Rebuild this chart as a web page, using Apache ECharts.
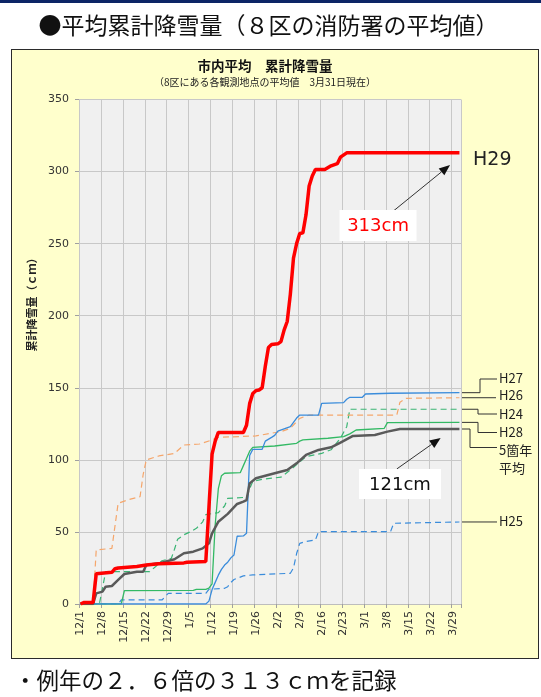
<!DOCTYPE html>
<html>
<head>
<meta charset="utf-8">
<script src="https://cdn.jsdelivr.net/npm/echarts@6/dist/echarts.min.js"></script>
<style>
  html, body { margin: 0; padding: 0; background: #fff; }
  #wrap { position: relative; width: 541px; height: 697px; }
  #topbar { position: absolute; left: 0; top: 0; width: 541px; height: 3px; background: #0c2566; }
  #panel { position: absolute; left: 11px; top: 49px; width: 526px; height: 608px;
           background: #ffffcc; border: 1.5px solid #2b2b2b; }
  #chart { position: absolute; left: 0; top: 0; width: 541px; height: 697px; }
</style>
</head>
<body>
<div id="wrap">
  <div id="topbar"></div>
  <div id="panel"></div>
  <div id="chart"></div>
</div>
<script>
// 12/1 .. 3/31 (2/29 included), one category per day
var months = [12, 1, 2, 3];
var monthDays = [31, 31, 29, 31];
var dates = [];
for (var m = 0; m < months.length; m++) {
    for (var d = 1; d <= monthDays[m]; d++) dates.push(months[m] + '/' + d);
}

// [day index, cm]
var h29 = [[0,0],[1,1],[4,1],[5,21],[10,22],[11,24.5],[12,25],[15,25.5],[18,26],[21,27],[25,28],[33,28.5],[34,29],[40,29.5],
    [41,67],[42,104],[43,113],[44,119],[52,119],[53,124],[54,139],[55,146],[56,148],[57,148.5],[58,150],[59,165],[60,178],[61,180],
    [63,180.5],[64,182],[65,190],[66,196],[67,215],[68,240],[69,250],[70,257],[71,257.5],[72,270],[73,290],[74,297],[75,301.5],
    [78,301.5],[80,304],[82,305.5],[83,310],[85,313],[121,313]];
var avg5 = [[0,0],[4,0],[5,7.4],[7,8.6],[8,12],[10,12.5],[12,16.7],[14,20.8],[18,22.4],[20,22.4],[21,27],[25,28.2],[30,31],
    [33,35.2],[36,36.3],[39,38.6],[41,42.1],[42,49],[44,57.1],[47,62.5],[50,69.4],[52,71],[53,72],[54,83.7],[56,87.2],[62,90.7],
    [66,93],[69,97.6],[72,103.4],[76,106.9],[80,108.7],[83,112],[87,116.6],[94,117.3],[98,119.6],[102,121.4],[121,121.4]];
var h27 = [[0,0],[40,0],[41,2],[42,10],[43,15],[44,20],[45,24],[46,27],[47,29],[48,32],[49,34],[50,47],[52,47.2],[53,49],
    [54,103],[55,107.3],[58,107.3],[59,113],[61,115.6],[62,117],[63,120],[67,123],[68,126],[69,129],[70,131.1],[76,131.1],
    [77,139.2],[84,139.7],[85,142],[86,143.4],[90,143.4],[91,145.7],[99,146.2],[121,146.6]];
var h26 = [[0,0],[4,0],[5,37.5],[10,38.6],[12,69.9],[15,72.2],[19,74.5],[20,90],[21,100],[25,102.7],[30,104.5],[33,110.3],
    [38,111],[42,113.8],[44,115.6],[56,116.6],[64,119.6],[67,121.9],[70,128.8],[73,131.1],[101,131.1],[102,140],[104,142.7],[121,143.1]];
var h24 = [[0,0],[6,0],[7,11],[8,22.4],[22,22.4],[24,26],[26,30],[29,31.7],[30,38],[31,45],[33,48],[35,50],[37,52.5],[39,57],
    [40,62],[44,63.4],[46,68],[47,73.3],[53,74],[54,80],[55,85],[58,86.5],[64,88],[67,93],[72,102.2],[77,104.5],[80,107],
    [83,115],[85,123],[86,135.1],[121,135.1]];
var h28 = [[0,0],[13,0],[14,9.3],[36,9.5],[37,10.2],[40,10.2],[41,11],[42,14],[43,55],[44,80],[45,89],[46,90.7],[51,91.1],
    [52,96],[53,101],[54,106],[55,108.7],[62,109.6],[69,111.5],[70,113],[71,113.8],[79,115],[84,116.1],[86,118],[88,120.7],
    [97,121.9],[98,125.8],[121,126]];
var h25 = [[0,0],[12,0],[13,2.8],[26,2.8],[28,7.4],[40,7.4],[41,10.2],[46,10.9],[47,12],[48,15],[49,17],[52,19.5],[55,20.2],
    [67,21.3],[68,25],[69,35],[70,42.1],[72,43.3],[75,44.4],[76,50.2],[99,50.2],[100,56],[121,56.9]];

var yTicks = [0, 50, 100, 150, 200, 250, 300, 350];

var blue = '#3a8cdb', green = '#33b964', greenD = '#3bb574', orange = '#f5a66b';

var chart = echarts.init(document.getElementById('chart'), null, { renderer: 'canvas' });

function line(name, data, color, width, dashed, z) {
    return {
        name: name, type: 'line', data: data, symbol: 'none', z: z,
        lineStyle: { color: color, width: width, type: dashed ? [6, 4] : 'solid' },
        emphasis: { disabled: true }
    };
}

var option = {
    animation: false,
    backgroundColor: 'transparent',
    grid: { left: 79, top: 99.5, right: 80, bottom: 93, show: true, backgroundColor: '#f0f0f0', borderWidth: 0 },
    xAxis: {
        type: 'category',
        data: dates,
        boundaryGap: true,
        axisLine: { show: true, lineStyle: { color: '#bdbdbd' } },
        axisTick: { show: true, interval: 6, length: 4, lineStyle: { color: '#a0a0a0' } },
        axisLabel: { interval: 6, rotate: 90, margin: 7, fontSize: 11, color: '#333', fontFamily: 'DejaVu Sans' },
        splitLine: { show: true, interval: 6, lineStyle: { color: '#c8c8c8', width: 1 } }
    },
    yAxis: {
        type: 'value',
        min: yTicks[0], max: yTicks[yTicks.length - 1], interval: 50,
        axisLine: { show: true, lineStyle: { color: '#c8c8c8' } },
        axisTick: { show: true, length: 4, lineStyle: { color: '#a0a0a0' } },
        axisLabel: { margin: 10, fontSize: 11, color: '#333', fontFamily: 'DejaVu Sans' },
        splitLine: { show: true, lineStyle: { color: '#c8c8c8', width: 1 } }
    },
    series: [
        line('H25', h25, blue, 1.2, true, 2),
        line('H24', h24, greenD, 1.2, true, 3),
        line('H26', h26, orange, 1.2, true, 4),
        line('H28', h28, green, 1.3, false, 5),
        line('H27', h27, blue, 1.3, false, 6),
        line('5箇年平均', avg5, '#5a5a5a', 2.5, false, 7),
        line('H29', h29, '#ff0000', 3.5, false, 8)
    ]
};
chart.setOption(option);

// ---- labels, leaders and annotations ----
function yPx(v) { return chart.convertToPixel({ yAxisIndex: 0 }, v); }
function pt(d, v) { return chart.convertToPixel({ gridIndex: 0 }, [d, v]); }
function last(arr) { return arr[arr.length - 1][1]; }

var xEnd = 462;
var jp = 'Noto Sans CJK JP';
var g = [];

function txt(x, y, s, font, color, align) {
    g.push({ type: 'text', x: x, y: y, silent: true,
        style: { text: s, font: font, fill: color || '#222', align: align || 'left', verticalAlign: 'middle' } });
}
function poly(points) {
    g.push({ type: 'polyline', silent: true, shape: { points: points }, style: { stroke: '#333', lineWidth: 1, fill: null } });
}
function arrow(a, b) {
    var dx = b[0] - a[0], dy = b[1] - a[1], len = Math.sqrt(dx * dx + dy * dy);
    var ux = dx / len, uy = dy / len, hl = 11, hw = 4.5;
    var bx = b[0] - ux * hl, by = b[1] - uy * hl;
    g.push({ type: 'line', silent: true, shape: { x1: a[0], y1: a[1], x2: bx, y2: by }, style: { stroke: '#333', lineWidth: 1 } });
    g.push({ type: 'polygon', silent: true,
        shape: { points: [[b[0], b[1]], [bx - uy * hw, by + ux * hw], [bx + uy * hw, by - ux * hw]] },
        style: { fill: '#111' } });
}
function box(c, w, h, s, color) {
    g.push({ type: 'rect', silent: true, shape: { x: c[0] - w / 2, y: c[1] - h / 2, width: w, height: h },
        style: { fill: '#fff' } });
    txt(c[0], c[1] + 1, s, '18px DejaVu Sans', color, 'center');
}

// leaders to the series names on the right
var lx = 499;
var e27 = yPx(last(h27)), e26 = yPx(last(h26)), e24 = yPx(last(h24)), e28 = yPx(last(h28)), e5 = yPx(last(avg5)), e25 = yPx(last(h25));
poly([[xEnd, e27], [480, e27], [480, 379], [497, 379]]);
poly([[xEnd, e26], [496, e26]]);
poly([[xEnd, e24], [478, e24], [478, 414], [497, 414]]);
poly([[xEnd, e28], [478, e28], [478, 432.5], [497, 432.5]]);
poly([[xEnd, e5], [470, e5], [470, 447.5], [497, 447.5]]);
poly([[xEnd, e25], [497, e25]]);
var lf = '13px ' + jp;
txt(lx, 378.5, 'H27', lf);
txt(lx, 395.5, 'H26', lf);
txt(lx, 414, 'H24', lf);
txt(lx, 432, 'H28', lf);
txt(lx, 450, '5箇年', lf);
txt(lx, 468, '平均', lf);
txt(lx, 521.5, 'H25', lf);
txt(473, 160, 'H29', '19px DejaVu Sans', '#222');

// callouts
arrow(pt(99.5, 272.8), pt(117.8, 304.6));
box(pt(95.2, 262.6), 77, 31, '313cm', '#ff0000');
arrow(pt(100.8, 93.7), pt(115.2, 115.2));
box(pt(102.1, 83.3), 82, 30, '121cm', '#111');

// titles
txt(268.5, 25, '●平均累計降雪量（８区の消防署の平均値）', '23px ' + jp, '#111', 'center');
txt(265, 66, '市内平均　累計降雪量', 'bold 13.5px ' + jp, '#111', 'center');
txt(265, 82, '（8区にある各観測地点の平均値　3月31日現在）', '10px ' + jp, '#222', 'center');
txt(14, 680, '・例年の２．６倍の３１３ｃｍを記録', '22.5px ' + jp, '#111', 'left');
g.push({ type: 'text', x: 32, y: 302, rotation: Math.PI / 2, silent: true,
    style: { text: '累計降雪量（ｃｍ）', font: 'bold 11px ' + jp, fill: '#222', align: 'center', verticalAlign: 'middle' } });

chart.setOption({ graphic: g });
</script>
</body>
</html>
